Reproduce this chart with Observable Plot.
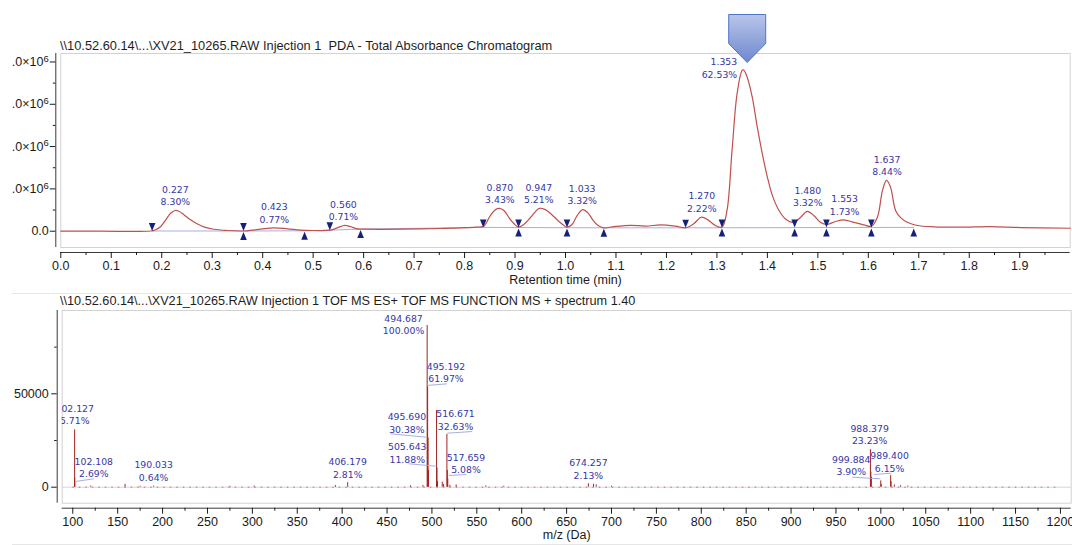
<!DOCTYPE html>
<html>
<head>
<meta charset="utf-8">
<script src="https://cdn.jsdelivr.net/npm/d3@7"></script>
<script src="https://cdn.jsdelivr.net/npm/@observablehq/plot@0.6"></script>
<style>
  body { margin: 0; background: #fff; font-family: "Liberation Sans", Arial, sans-serif; }
  #wrap { position: relative; width: 1072px; height: 545px; overflow: hidden; background: #fff; }
  .title { position: absolute; left: 60px; color: #1e1e1e; white-space: pre; line-height: 1; }
  #topChart { position: absolute; left: 0; top: 0; }
  #bottomChart { position: absolute; left: 0; top: 290px; }
  .sep { position: absolute; left: 12px; right: 0; height: 1px; background: #e6e6e6; }
</style>
</head>
<body>
<div id="wrap">
  <div class="sep" style="top:293px"></div>
  <div class="sep" style="top:544px"></div>
  <div id="topChart"></div>
  <div id="bottomChart"></div>
  <div class="title" id="topTitle" style="top:40px;font-size:12.8px"></div>
  <div class="title" id="bottomTitle" style="top:295px;font-size:12.7px"></div>
</div>
<script>
// ---------- Chromatogram (PDA total absorbance), values in 10^6 units ----------
const chromTitle = "\\\\10.52.60.14\\...\\XV21_10265.RAW Injection 1  PDA - Total Absorbance Chromatogram";
const retentionTime = [0, 0.079, 0.178, 0.187, 0.198, 0.208, 0.218, 0.227, 0.234, 0.244, 0.257, 0.270, 0.283, 0.303, 0.330, 0.356, 0.369, 0.396, 0.422, 0.449, 0.475, 0.501, 0.534, 0.548, 0.561, 0.574, 0.587, 0.607, 0.673, 0.752, 0.822, 0.838, 0.851, 0.861, 0.869, 0.878, 0.888, 0.898, 0.907, 0.917, 0.931, 0.941, 0.948, 0.960, 0.973, 0.987, 0.997, 1.003, 1.013, 1.023, 1.034, 1.044, 1.054, 1.064, 1.076, 1.096, 1.129, 1.159, 1.188, 1.218, 1.238, 1.254, 1.269, 1.284, 1.297, 1.310, 1.320, 1.330, 1.340, 1.350, 1.353, 1.360, 1.370, 1.380, 1.390, 1.400, 1.410, 1.423, 1.436, 1.452, 1.466, 1.479, 1.492, 1.505, 1.517, 1.535, 1.551, 1.571, 1.591, 1.606, 1.618, 1.628, 1.636, 1.644, 1.654, 1.664, 1.677, 1.697, 1.730, 1.783, 1.842, 1.902, 2.0];
const absorbanceM = [0, 0, 0.005, 0.03, 0.11, 0.27, 0.43, 0.49, 0.47, 0.39, 0.27, 0.175, 0.104, 0.047, 0.017, 0.005, 0.01, 0.047, 0.08, 0.057, 0.024, 0.017, 0.024, 0.08, 0.135, 0.11, 0.057, 0.047, 0.047, 0.064, 0.095, 0.118, 0.37, 0.51, 0.54, 0.49, 0.32, 0.175, 0.095, 0.158, 0.33, 0.47, 0.54, 0.51, 0.39, 0.23, 0.135, 0.095, 0.158, 0.37, 0.51, 0.44, 0.27, 0.14, 0.08, 0.11, 0.14, 0.12, 0.15, 0.12, 0.08, 0.175, 0.33, 0.25, 0.135, 0.095, 0.49, 1.91, 3.25, 3.80, 3.81, 3.64, 3.17, 2.46, 1.83, 1.28, 0.84, 0.49, 0.29, 0.21, 0.33, 0.47, 0.37, 0.21, 0.158, 0.23, 0.27, 0.21, 0.15, 0.118, 0.33, 0.96, 1.20, 1.04, 0.49, 0.32, 0.21, 0.135, 0.104, 0.095, 0.11, 0.087, 0.07];
const baselineTime = [0.181, 0.362, 0.483, 0.533, 0.594, 0.837, 1.076, 1.238, 1.690];
const baselineM = [0.005, 0.005, 0.01, 0.024, 0.05, 0.09, 0.08, 0.08, 0.09];
const peakStartTime = [0.181, 0.362, 0.533, 0.837, 0.907, 1.003, 1.238, 1.310, 1.454, 1.517, 1.606];
const peakStartM = [0.005, 0.005, 0.024, 0.09, 0.09, 0.09, 0.08, 0.09, 0.09, 0.09, 0.09];
const peakEndTime = [0.362, 0.483, 0.594, 0.907, 1.003, 1.076, 1.310, 1.454, 1.517, 1.606, 1.690];
const peakEndM = [0.005, 0.01, 0.05, 0.09, 0.09, 0.08, 0.09, 0.09, 0.09, 0.09, 0.09];
const peakTime = [0.227, 0.423, 0.560, 0.870, 0.947, 1.033, 1.270, 1.353, 1.480, 1.553, 1.637];
const peakApexM = [0.49, 0.08, 0.135, 0.54, 0.54, 0.51, 0.33, 3.81, 0.47, 0.27, 1.20];
const peakAreaPct = [8.30, 0.77, 0.71, 3.43, 5.21, 3.32, 2.22, 62.53, 3.32, 1.73, 8.44];
const rtTicks = [0.0, 0.1, 0.2, 0.3, 0.4, 0.5, 0.6, 0.7, 0.8, 0.9, 1.0, 1.1, 1.2, 1.3, 1.4, 1.5, 1.6, 1.7, 1.8, 1.9];
const absTicksM = [0, 1, 2, 3, 4];
// tick labels as visible in the (left-cropped) source image
const absTickLabels = ["0.0", ".0×10⁶", ".0×10⁶", ".0×10⁶", ".0×10⁶"];
const markerTime = 1.36;
const rtLabel = "Retention time (min)";

// ---------- Mass spectrum ----------
const specTitle = "\\\\10.52.60.14\\...\\XV21_10265.RAW Injection 1 TOF MS ES+ TOF MS FUNCTION MS + spectrum 1.40";
const mz = [102.05, 102.108, 102.127, 120, 158.2, 175, 190.033, 275, 302, 392.5, 406.179, 476, 490, 494.687, 495.192, 495.690, 496.19, 505.14, 505.643, 506.15, 511.5, 513, 516.671, 517.16, 517.659, 520, 527, 560, 580, 674.257, 680, 683, 700, 988.379, 988.88, 989.400, 999.884, 1000.4, 1010.9, 1011.4, 1015, 1022, 1030];
const intensity = [30700, 2330, 4940, 600, 1500, 500, 550, 500, 600, 900, 2430, 800, 900, 86560, 53640, 26300, 9000, 41060, 10280, 3000, 2700, 1500, 28240, 9000, 4400, 1000, 1200, 700, 500, 1840, 1500, 1200, 500, 20110, 8000, 5320, 3380, 1500, 6200, 3000, 1200, 800, 600];
const labelMz = [102.127, 102.108, 190.033, 406.179, 494.687, 495.192, 495.690, 505.643, 516.671, 517.659, 674.257, 988.379, 999.884, 989.400];
const labelPct = [5.71, 2.69, 0.64, 2.81, 100.00, 61.97, 30.38, 11.88, 32.63, 5.08, 2.13, 23.23, 3.90, 6.15];
const labelAtMz = [102.127, 123.4, 190.033, 406.179, 468.4, 515.6, 472.1, 472.5, 526.3, 537.9, 674.257, 987.5, 967, 1009.7];
const labelAtInt = [39290, 10700, 8940, 10540, 87470, 61560, 34530, 18470, 36140, 12850, 10010, 28590, 11780, 13650];
const leaderMz1 = [103.0, 493.6, 453.9, 474.2, 517.0, 518.8, 968.1, 992.2];
const leaderInt1 = [3050, 54440, 28590, 12530, 28910, 6260, 5350, 6800];
const leaderMz2 = [123.4, 517.0, 493.6, 505.1, 544.9, 538.5, 999.6, 1011.5];
const leaderInt2 = [4500, 55350, 26770, 11240, 29820, 6800, 4500, 7500];
const mzTicks = [100, 150, 200, 250, 300, 350, 400, 450, 500, 550, 600, 650, 700, 750, 800, 850, 900, 950, 1000, 1050, 1100, 1150, 1200];
const intTicks = [0, 50000];
const mzLabel = "m/z (Da)";

// ---------- styles ----------
const F = "'Liberation Sans', Arial, sans-serif";
const LF = "'DejaVu Sans', Verdana, sans-serif";
const navy = "#3636a4";
const axisColor = "#3a3a3a";

const pentagon = {draw(c) { c.moveTo(-18.5, -39); c.lineTo(18.5, -39); c.lineTo(18.5, -10); c.lineTo(0, 9); c.lineTo(-18.5, -10); c.closePath(); }};
const triDown = {draw(c) { c.moveTo(-3.3, -8); c.lineTo(3.3, -8); c.lineTo(0, 0); c.closePath(); }};
const triUp = {draw(c) { c.moveTo(-3.3, 9); c.lineTo(3.3, 9); c.lineTo(0, 1); c.closePath(); }};
const gradientDefs = () => {
  const defs = d3.create("svg:defs");
  const g = defs.append("linearGradient").attr("id", "pentGrad").attr("x1", 0).attr("y1", 0).attr("x2", 0).attr("y2", 1);
  g.append("stop").attr("offset", "0%").attr("stop-color", "#b9c4e9");
  g.append("stop").attr("offset", "100%").attr("stop-color", "#6e89cf");
  return defs.node();
};

const peakIdx = peakTime.map((_, i) => i);
const mainIdx = peakAreaPct.indexOf(d3.max(peakAreaPct));
const peakText = i => peakTime[i].toFixed(3) + "\n" + peakAreaPct[i].toFixed(2) + "%";
const rtMinor = rtTicks.map(t => +(t + 0.05).toFixed(2));
const absMinor = absTicksM.slice(0, -1).map(t => t + 0.5);
const yMinTop = -0.385;

const topChart = Plot.plot({
  width: 1072, height: 290,
  marginTop: 53, marginBottom: 43, marginLeft: 60.3, marginRight: 2.3,
  x: {domain: [0, 2.0]},
  y: {domain: [yMinTop, 4.2]},
  style: {fontFamily: F, fontSize: "12.5px", color: "#1a1a1a", background: "transparent"},
  marks: [
    gradientDefs,
    Plot.frame({stroke: "#d2d2d2"}),
    Plot.ruleX([0], {dx: -5, stroke: axisColor}),
    Plot.ruleY([yMinTop], {dy: 5, stroke: axisColor}),
    Plot.axisX(rtTicks, {tickSize: 6, dy: 5, tickPadding: 3, tickFormat: d => d.toFixed(1), label: null}),
    Plot.axisX(rtMinor, {tickSize: 3, dy: 5, tickFormat: () => "", label: null}),
    Plot.axisY(absTicksM, {tickSize: 5.5, dx: -5, tickPadding: 1.5, tickFormat: d => absTickLabels[absTicksM.indexOf(d)], label: null}),
    Plot.axisY(absMinor, {tickSize: 2.5, dx: -5, tickFormat: () => "", label: null}),
    Plot.text([rtLabel], {frameAnchor: "bottom", dy: 36, fill: "#1a1a1a"}),
    Plot.line(baselineM, {x: baselineTime, y: baselineM, stroke: "#a8aee6", strokeWidth: 1}),
    Plot.line(absorbanceM, {x: retentionTime, y: absorbanceM, stroke: "#c0504d", strokeWidth: 1.2, curve: "catmull-rom"}),
    Plot.dot(peakStartM, {x: peakStartTime, y: peakStartM, symbol: triDown, fill: "#14207c", stroke: null}),
    Plot.dot(peakEndM, {x: peakEndTime, y: peakEndM, symbol: triUp, fill: "#14207c", stroke: null}),
    Plot.text(peakIdx.filter(i => i !== mainIdx), {x: i => peakTime[i], y: i => peakApexM[i], text: peakText, dy: -15.5, fill: navy, fontSize: 9.3, fontFamily: LF, lineHeight: 1.35}),
    Plot.text([mainIdx], {x: i => peakTime[i], y: i => peakApexM[i], text: peakText, textAnchor: "end", dx: -6.5, dy: -2.5, fill: navy, fontSize: 9.3, fontFamily: LF, lineHeight: 1.35}),
    Plot.dot([markerTime], {x: d => d, frameAnchor: "top", symbol: pentagon, fill: "url(#pentGrad)", stroke: "#4f75c8", strokeWidth: 1})
  ]
});
// render the exponent as a raised, larger superscript
d3.select(topChart).selectAll("text").each(function() {
  const s = this.textContent;
  if (s.endsWith("×10⁶")) {
    this.textContent = s.slice(0, -1);
    d3.select(this).append("tspan").attr("dy", "-0.45em").attr("font-size", "9.5px").text("6");
  }
});
document.getElementById("topChart").append(topChart);

const labelIdx = labelMz.map((_, i) => i);
const leaderIdx = leaderMz1.map((_, i) => i);
const mzMinor = mzTicks.slice(0, -1).map(t => t + 25);
const intMinor = [25000, 75000];
const yMinBot = -8565;

const specChart = Plot.plot({
  width: 1072, height: 255,
  marginTop: 20, marginBottom: 42.3, marginLeft: 61.7, marginRight: 1.3,
  x: {domain: [88.2, 1212]},
  y: {domain: [yMinBot, 94600]},
  style: {fontFamily: F, fontSize: "12.5px", color: "#1a1a1a", background: "transparent"},
  marks: [
    Plot.frame({stroke: "#d2d2d2"}),
    Plot.ruleX([88.2], {dx: -5, stroke: axisColor}),
    Plot.ruleY([yMinBot], {dy: 5, stroke: axisColor}),
    Plot.axisX(mzTicks, {tickSize: 6, dy: 5, tickPadding: 3, tickFormat: d => String(d), label: null}),
    Plot.axisX(mzMinor, {tickSize: 3, dy: 5, tickFormat: () => "", label: null}),
    Plot.axisY(intTicks, {tickSize: 5.5, dx: -5, tickPadding: 3, tickFormat: d => String(d), label: null}),
    Plot.axisY(intMinor, {tickSize: 2.5, dx: -5, tickFormat: () => "", label: null}),
    Plot.text([mzLabel], {frameAnchor: "bottom", dy: 35.6, fill: "#1a1a1a"}),
    Plot.ruleY([0], {stroke: "#d6d6d6"}),
    Plot.ruleY([0], {x1: 100, x2: 1200, stroke: "#c46a6a", strokeDasharray: "1.5,5"}),
    Plot.ruleX(intensity, {x: mz, y1: 0, y2: intensity, stroke: "#a52222", strokeWidth: 1}),
    Plot.link(leaderIdx, {x1: i => leaderMz1[i], y1: i => leaderInt1[i], x2: i => leaderMz2[i], y2: i => leaderInt2[i], stroke: "#9ea5de", strokeWidth: 0.9}),
    Plot.text(labelIdx, {x: i => labelAtMz[i], y: i => labelAtInt[i], text: i => labelMz[i].toFixed(3) + "\n" + labelPct[i].toFixed(2) + "%", fill: navy, fontSize: 9.3, fontFamily: LF, lineHeight: 1.35, clip: true})
  ]
});
document.getElementById("bottomChart").append(specChart);

document.getElementById("topTitle").textContent = chromTitle;
document.getElementById("bottomTitle").textContent = specTitle;
</script>
</body>
</html>
